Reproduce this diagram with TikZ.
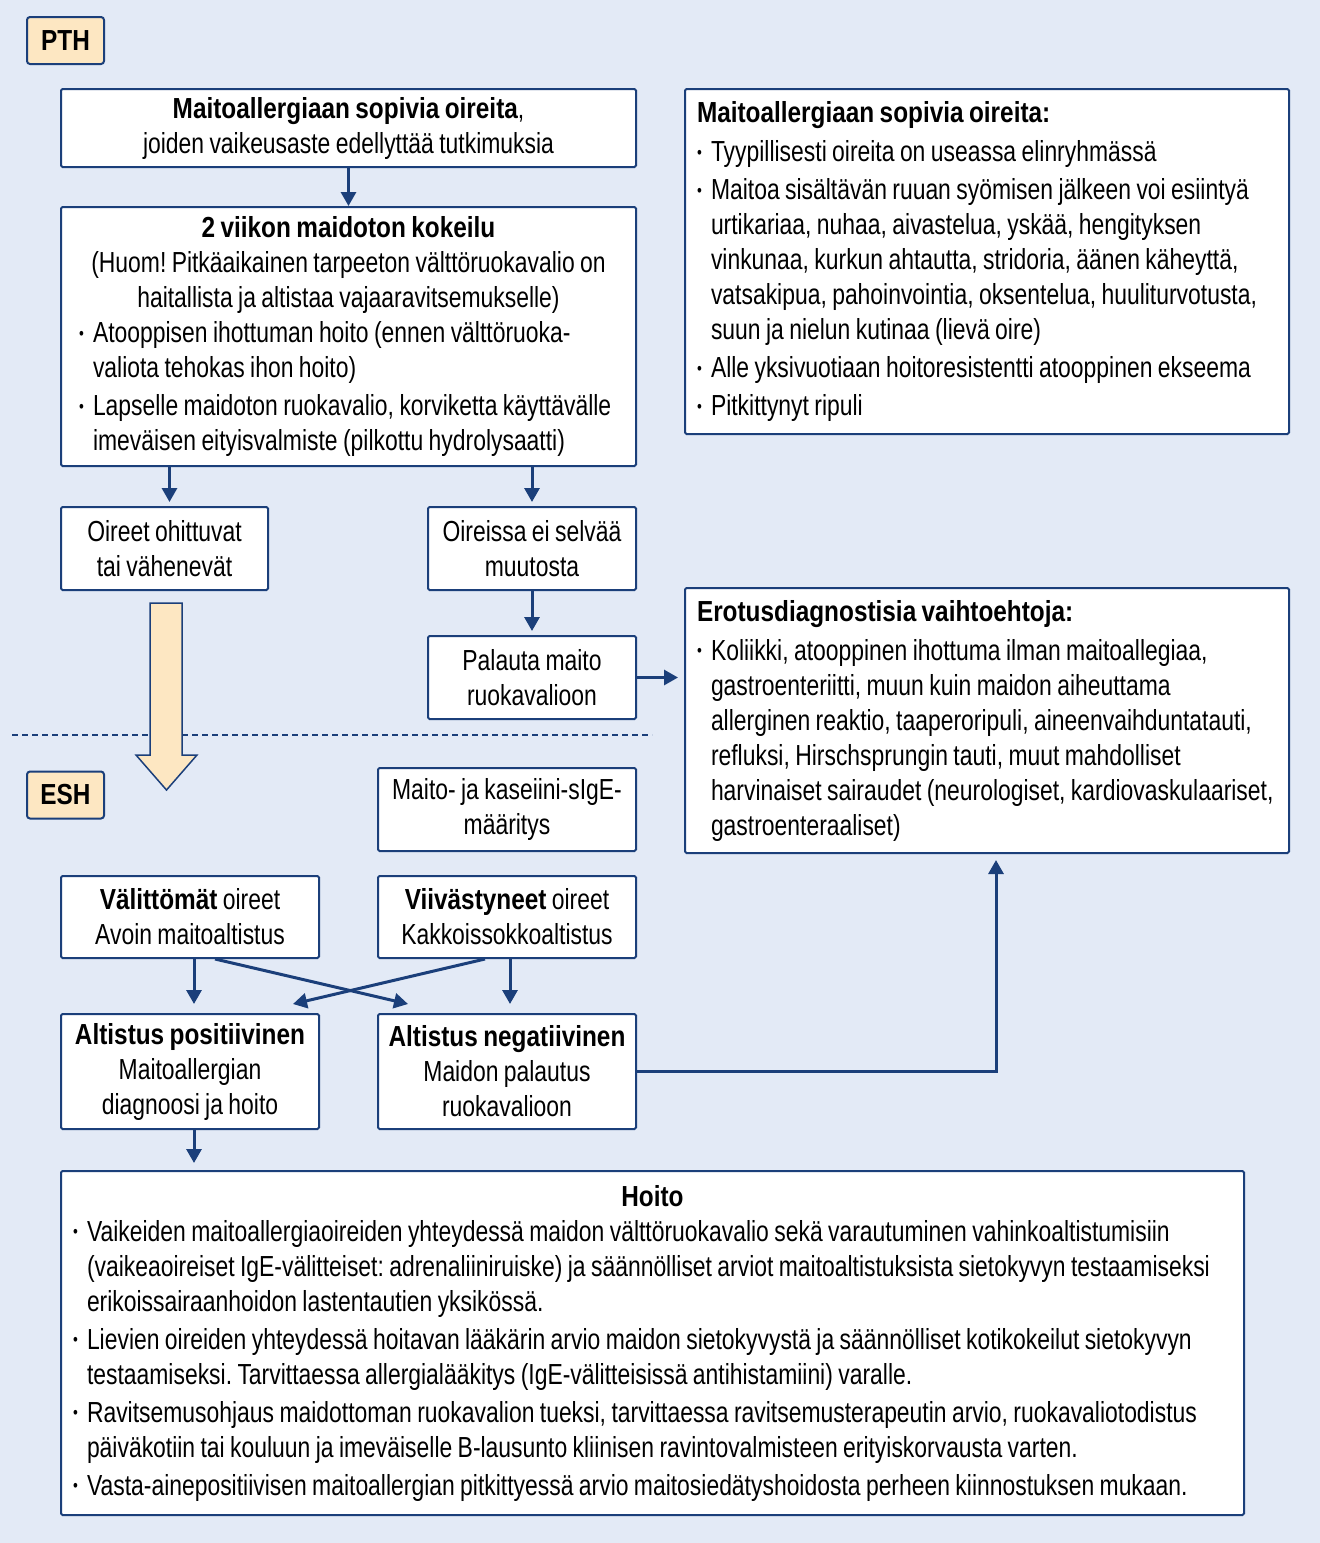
\documentclass[tikz,border=0pt]{standalone}
\usepackage{fontspec}
\setmainfont[FakeStretch=0.79, BoldFeatures={FakeStretch=0.84}]{Liberation Sans}
\usepackage{xcolor}
\usepackage{tikz}
\usetikzlibrary{calc}
\usetikzlibrary{arrows.meta}
\usetikzlibrary{positioning}
\definecolor{navy}{HTML}{1B3F7A}
\definecolor{bgblue}{HTML}{E3EAF6}
\definecolor{peach}{HTML}{FDE7C2}
\frenchspacing
\hyphenpenalty=10000
\exhyphenpenalty=10000
\newlength{\bw}
\setlength{\bw}{14pt}
\newcommand{\bl}{\makebox[\bw][l]{\raisebox{0.12em}{\scalebox{0.6}{\textbullet}}}}
\newcommand{\ind}{\hspace*{\bw}}
\newcommand{\tsp}{\spaceskip=5.4pt plus 2pt minus 1pt\relax}
\newcommand{\fs}{\fontsize{29}{35}\selectfont\tsp}
\tikzset{
  box/.style={draw=navy, line width=2pt, fill=white, rounded corners=1.5pt, inner sep=0pt, align=center, font=\fs},
  txtbox/.style={box, align=left, inner xsep=12pt},
  lab/.style={draw=navy, line width=2pt, fill=peach, rounded corners=3pt, inner sep=0pt, font=\fs\bfseries, minimum width=77pt, minimum height=47pt},
  arr/.style={draw=navy, line width=3pt, -{Triangle[width=15pt,length=14pt]}}
}

\begin{document}
\begin{tikzpicture}[x=1pt, y=-1pt]
\fill[bgblue] (0,0) rectangle (1320,1543);
\useasboundingbox (0,0) rectangle (1320,1543);

% levels
\node[lab] (pth) at (65.5,40.5) {PTH};
\node[lab] (esh) at (65.5,795) {ESH};
\draw[navy, line width=1.5pt, dash pattern=on 6pt off 4pt] (12,735) -- (652,735);

% PTH part
\node[box, minimum width=575pt, minimum height=78pt] (q1) at (348.5,128)
  {\textbf{Maitoallergiaan sopivia oireita},\\ joiden vaikeusaste edellyttää tutkimuksia};
\node[txtbox, text width=551pt, minimum height=259pt] (trial) at (348.5,336.5) {\tsp
\makebox[\linewidth]{\textbf{2 viikon maidoton kokeilu}}\\
\makebox[\linewidth]{(Huom! Pitkäaikainen tarpeeton välttöruokavalio on}\\
\makebox[\linewidth]{haitallista ja altistaa vajaaravitsemukselle)}\\
\hspace*{6pt}\bl Atooppisen ihottuman hoito (ennen välttöruoka-\\
\hspace*{6pt}\ind valiota tehokas ihon hoito)\\[3pt]
\hspace*{6pt}\bl Lapselle maidoton ruokavalio, korviketta käyttävälle\\
\hspace*{6pt}\ind imeväisen eityisvalmiste (pilkottu hydrolysaatti)};
\node[box, minimum width=207pt, minimum height=83pt] (better) at (164.5,548.5) {Oireet ohittuvat\\ tai vähenevät};
\node[box, minimum width=208pt, minimum height=83pt] (nochange) at (532,548.5) {Oireissa ei selvää\\ muutosta};
\node[box, minimum width=208pt, minimum height=83pt] (restore) at (532,677.5) {Palauta maito\\ ruokavalioon};

\node[txtbox, text width=580pt, minimum height=345pt] (symp) at (987,261.5) {\tsp
\textbf{Maitoallergiaan sopivia oireita:}\\[4pt]
\bl Tyypillisesti oireita on useassa elinryhmässä\\[3pt]
\bl Maitoa sisältävän ruuan syömisen jälkeen voi esiintyä\\
\ind urtikariaa, nuhaa, aivastelua, yskää, hengityksen\\
\ind vinkunaa, kurkun ahtautta, stridoria, äänen käheyttä,\\
\ind vatsakipua, pahoinvointia, oksentelua, huuliturvotusta,\\
\ind suun ja nielun kutinaa (lievä oire)\\[3pt]
\bl Alle yksivuotiaan hoitoresistentti atooppinen ekseema\\[3pt]
\bl Pitkittynyt ripuli};
\node[txtbox, text width=580pt, minimum height=265pt] (diff) at (987,720.5) {\tsp
\textbf{Erotusdiagnostisia vaihtoehtoja:}\\[4pt]
\bl Koliikki, atooppinen ihottuma ilman maitoallegiaa,\\
\ind gastroenteriitti, muun kuin maidon aiheuttama\\
\ind allerginen reaktio, taaperoripuli, aineenvaihduntatauti,\\
\ind refluksi, Hirschsprungin tauti, muut mahdolliset\\
\ind harvinaiset sairaudet (neurologiset, kardiovaskulaariset,\\
\ind gastroenteraaliset)};

% ESH part
\node[box, minimum width=258pt, minimum height=83pt] (sige) at (507,809.5) {Maito- ja kaseiini-sIgE-\\ määritys};
\node[box, minimum width=258pt, minimum height=82pt] (immed) at (190,917) {\textbf{Välittömät} oireet\\ Avoin maitoaltistus};
\node[box, minimum width=258pt, minimum height=82pt] (delay) at (507,917) {\textbf{Viivästyneet} oireet\\ Kakkoissokkoaltistus};
\node[box, minimum width=258pt, minimum height=115pt] (pos) at (190,1071.5) {\textbf{Altistus positiivinen}\\ Maitoallergian\\ diagnoosi ja hoito};
\node[box, minimum width=258pt, minimum height=115pt] (neg) at (507,1071.5) {\textbf{Altistus negatiivinen}\\ Maidon palautus\\ ruokavalioon};
\node[txtbox, text width=1159pt, minimum height=344pt] (hoito) at (652.5,1343) {\tsp
\makebox[\linewidth]{\textbf{Hoito}}\\
\bl Vaikeiden maitoallergiaoireiden yhteydessä maidon välttöruokavalio sekä varautuminen vahinkoaltistumisiin\\
\ind (vaikeaoireiset IgE-välitteiset: adrenaliiniruiske) ja säännölliset arviot maitoaltistuksista sietokyvyn testaamiseksi\\
\ind erikoissairaanhoidon lastentautien yksikössä.\\[3pt]
\bl Lievien oireiden yhteydessä hoitavan lääkärin arvio maidon sietokyvystä ja säännölliset kotikokeilut sietokyvyn\\
\ind testaamiseksi. Tarvittaessa allergialääkitys (IgE-välitteisissä antihistamiini) varalle.\\[3pt]
\bl Ravitsemusohjaus maidottoman ruokavalion tueksi, tarvittaessa ravitsemusterapeutin arvio, ruokavaliotodistus\\
\ind päiväkotiin tai kouluun ja imeväiselle B-lausunto kliinisen ravintovalmisteen erityiskorvausta varten.\\[3pt]
\bl Vasta-ainepositiivisen maitoallergian pitkittyessä arvio maitosiedätyshoidosta perheen kiinnostuksen mukaan.};

% fat arrow PTH -> ESH
\filldraw[draw=navy, line width=1.5pt, fill=peach] (150,603) -- (182,603) -- (182,755) -- (197,755)
  -- (166.5,790) -- (136,755) -- (150,755) -- cycle;

% connectors
\draw[arr] (q1.south) -- (trial.north);
\draw[arr, shorten >=4pt] ([xshift=5pt]better.north |- trial.south) -- ([xshift=5pt]better.north);
\draw[arr, shorten >=4pt] (nochange.north |- trial.south) -- (nochange.north);
\draw[arr, shorten >=4pt] (nochange.south) -- (restore.north);
\draw[arr, shorten >=6pt] (restore.east) -- (restore.east -| diff.west);
\draw[arr, shorten >=9pt] ([xshift=4pt]immed.south) -- ([xshift=4pt]pos.north);
\draw[arr, shorten >=9pt] ([xshift=3pt]delay.south) -- ([xshift=3pt]neg.north);
\draw[arr] ([xshift=25pt]immed.south) -- ([xshift=-99pt,yshift=9pt]neg.north);
\draw[arr] ([xshift=-22pt]delay.south) -- ([xshift=103pt,yshift=9pt]pos.north);
\draw[arr, shorten >=6pt] (neg.east) -| ([xshift=9pt]diff.south);
\draw[arr, shorten >=7pt] ([xshift=4pt]pos.south) -- ([xshift=4pt]pos.south |- hoito.north);
\end{tikzpicture}
\end{document}
